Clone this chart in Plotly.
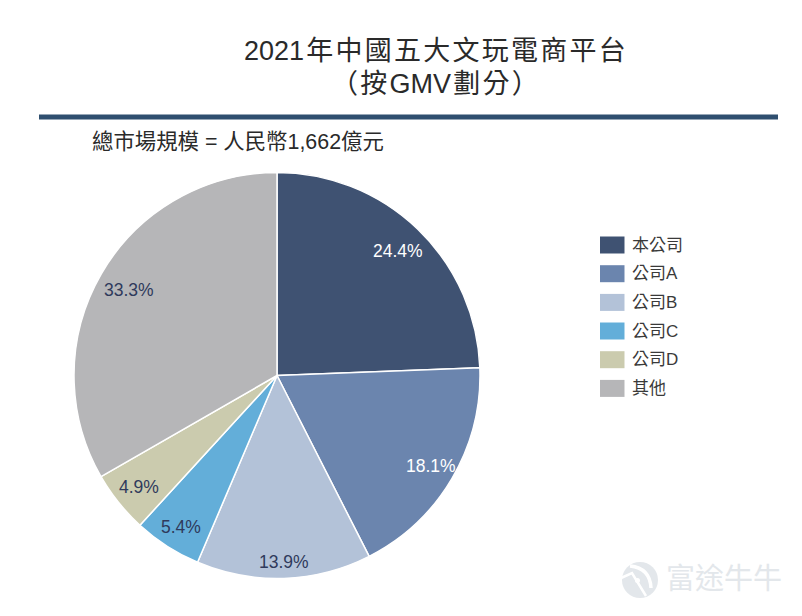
import math
import plotly.graph_objects as go

categories = ["本公司", "公司A", "公司B", "公司C", "公司D", "其他"]
values = [24.4, 18.1, 13.9, 5.4, 4.9, 33.3]
colors = ["#3f5272", "#6b85ae", "#b3c2d8", "#63aed9", "#cbcbae", "#b6b6b8"]
label_colors = ["#ffffff", "#ffffff", "#2f3a5c", "#2f3a5c", "#2f3a5c", "#2f3a5c"]
title_lines = ["2021年中國五大文玩電商平台", "（按GMV劃分）"]
subtitle = "總市場規模 = 人民幣1,662億元"
watermark = "富途牛牛"

W, H = 802, 616
FONT = "Liberation Sans, Noto Sans CJK TC, sans-serif"
CX, CY, R = 277, 375.5, 203
LABEL_RADII = [173, 177, 186, 180, 178, 172]
HAIR = "\u200a"


def px(x):
    return x / W


def py(y):
    return 1 - y / H


def spaced(s):
    out = ""
    for i, ch in enumerate(s):
        out += ch
        if i < len(s) - 1 and (ord(ch) > 255 or ord(s[i + 1]) > 255):
            out += HAIR
    return out


fig = go.Figure(
    go.Pie(
        labels=categories,
        values=values,
        sort=False,
        direction="clockwise",
        rotation=0,
        marker=dict(colors=colors, line=dict(color="#ffffff", width=1.5)),
        textinfo="none",
        hoverinfo="label+percent",
        showlegend=False,
        domain=dict(x=[px(CX - R), px(CX + R)], y=[py(CY + R), py(CY - R)]),
    )
)

ann = []


def text(x, y, s, size, color="#2a2a2a", anchor="center"):
    ann.append(dict(x=px(x), y=py(y), xref="paper", yref="paper", text=s, showarrow=False,
                    xanchor=anchor, yanchor="middle", font=dict(family=FONT, size=size, color=color)))


text(435, 51, spaced(title_lines[0]), 27)
text(435, 84, spaced(title_lines[1]), 27)
text(90, 142, subtitle, 21.4, anchor="left")

total = sum(values)
cum = 0
for v, c, lr in zip(values, label_colors, LABEL_RADII):
    a = 2 * math.pi * (cum + v / 2) / total
    cum += v
    text(CX + 1 + lr * math.sin(a), CY + 0.5 - lr * math.cos(a), f"{v:.1f}%", 17.5, c)

shapes = [dict(type="rect", xref="paper", yref="paper", x0=px(39), x1=px(778), y0=py(119.5), y1=py(114.5),
               fillcolor="#2f4f6f", line=dict(width=0))]

LEG_Y = [245, 273.7, 302.4, 331, 359.7, 388.4]
for cat, col, y in zip(categories, colors, LEG_Y):
    shapes.append(dict(type="rect", xref="paper", yref="paper", x0=px(600), x1=px(624.5),
                       y0=py(y + 8.5), y1=py(y - 8.5), fillcolor=col, line=dict(width=0)))
    text(630, y, cat, 17, "#3a3a3a", anchor="left")

# watermark
WM = "#e3e7eb"
shapes.append(dict(type="circle", xref="paper", yref="paper", x0=px(622), x1=px(658), y0=py(598), y1=py(562),
                   fillcolor=WM, line=dict(width=0)))
shapes.append(dict(type="path", xref="paper", yref="paper",
                   path=f"M {px(630)} {py(566)} Q {px(650)} {py(568)} {px(651)} {py(588)}",
                   line=dict(color="#ffffff", width=3.5)))
shapes.append(dict(type="path", xref="paper", yref="paper",
                   path=f"M {px(621)} {py(578)} L {px(632)} {py(573)} L {px(646)} {py(596)}",
                   line=dict(color="#ffffff", width=2.5)))
shapes.append(dict(type="circle", xref="paper", yref="paper", x0=px(635), x1=px(640), y0=py(583), y1=py(578),
                   fillcolor="#ffffff", line=dict(width=0)))
text(724, 579, watermark, 29, WM)

fig.update_layout(width=W, height=H, margin=dict(l=0, r=0, t=0, b=0), paper_bgcolor="#ffffff",
                  annotations=ann, shapes=shapes)
fig.write_html("out.html", post_script="document.body.style.margin='0';", config=dict(displayModeBar=False))
